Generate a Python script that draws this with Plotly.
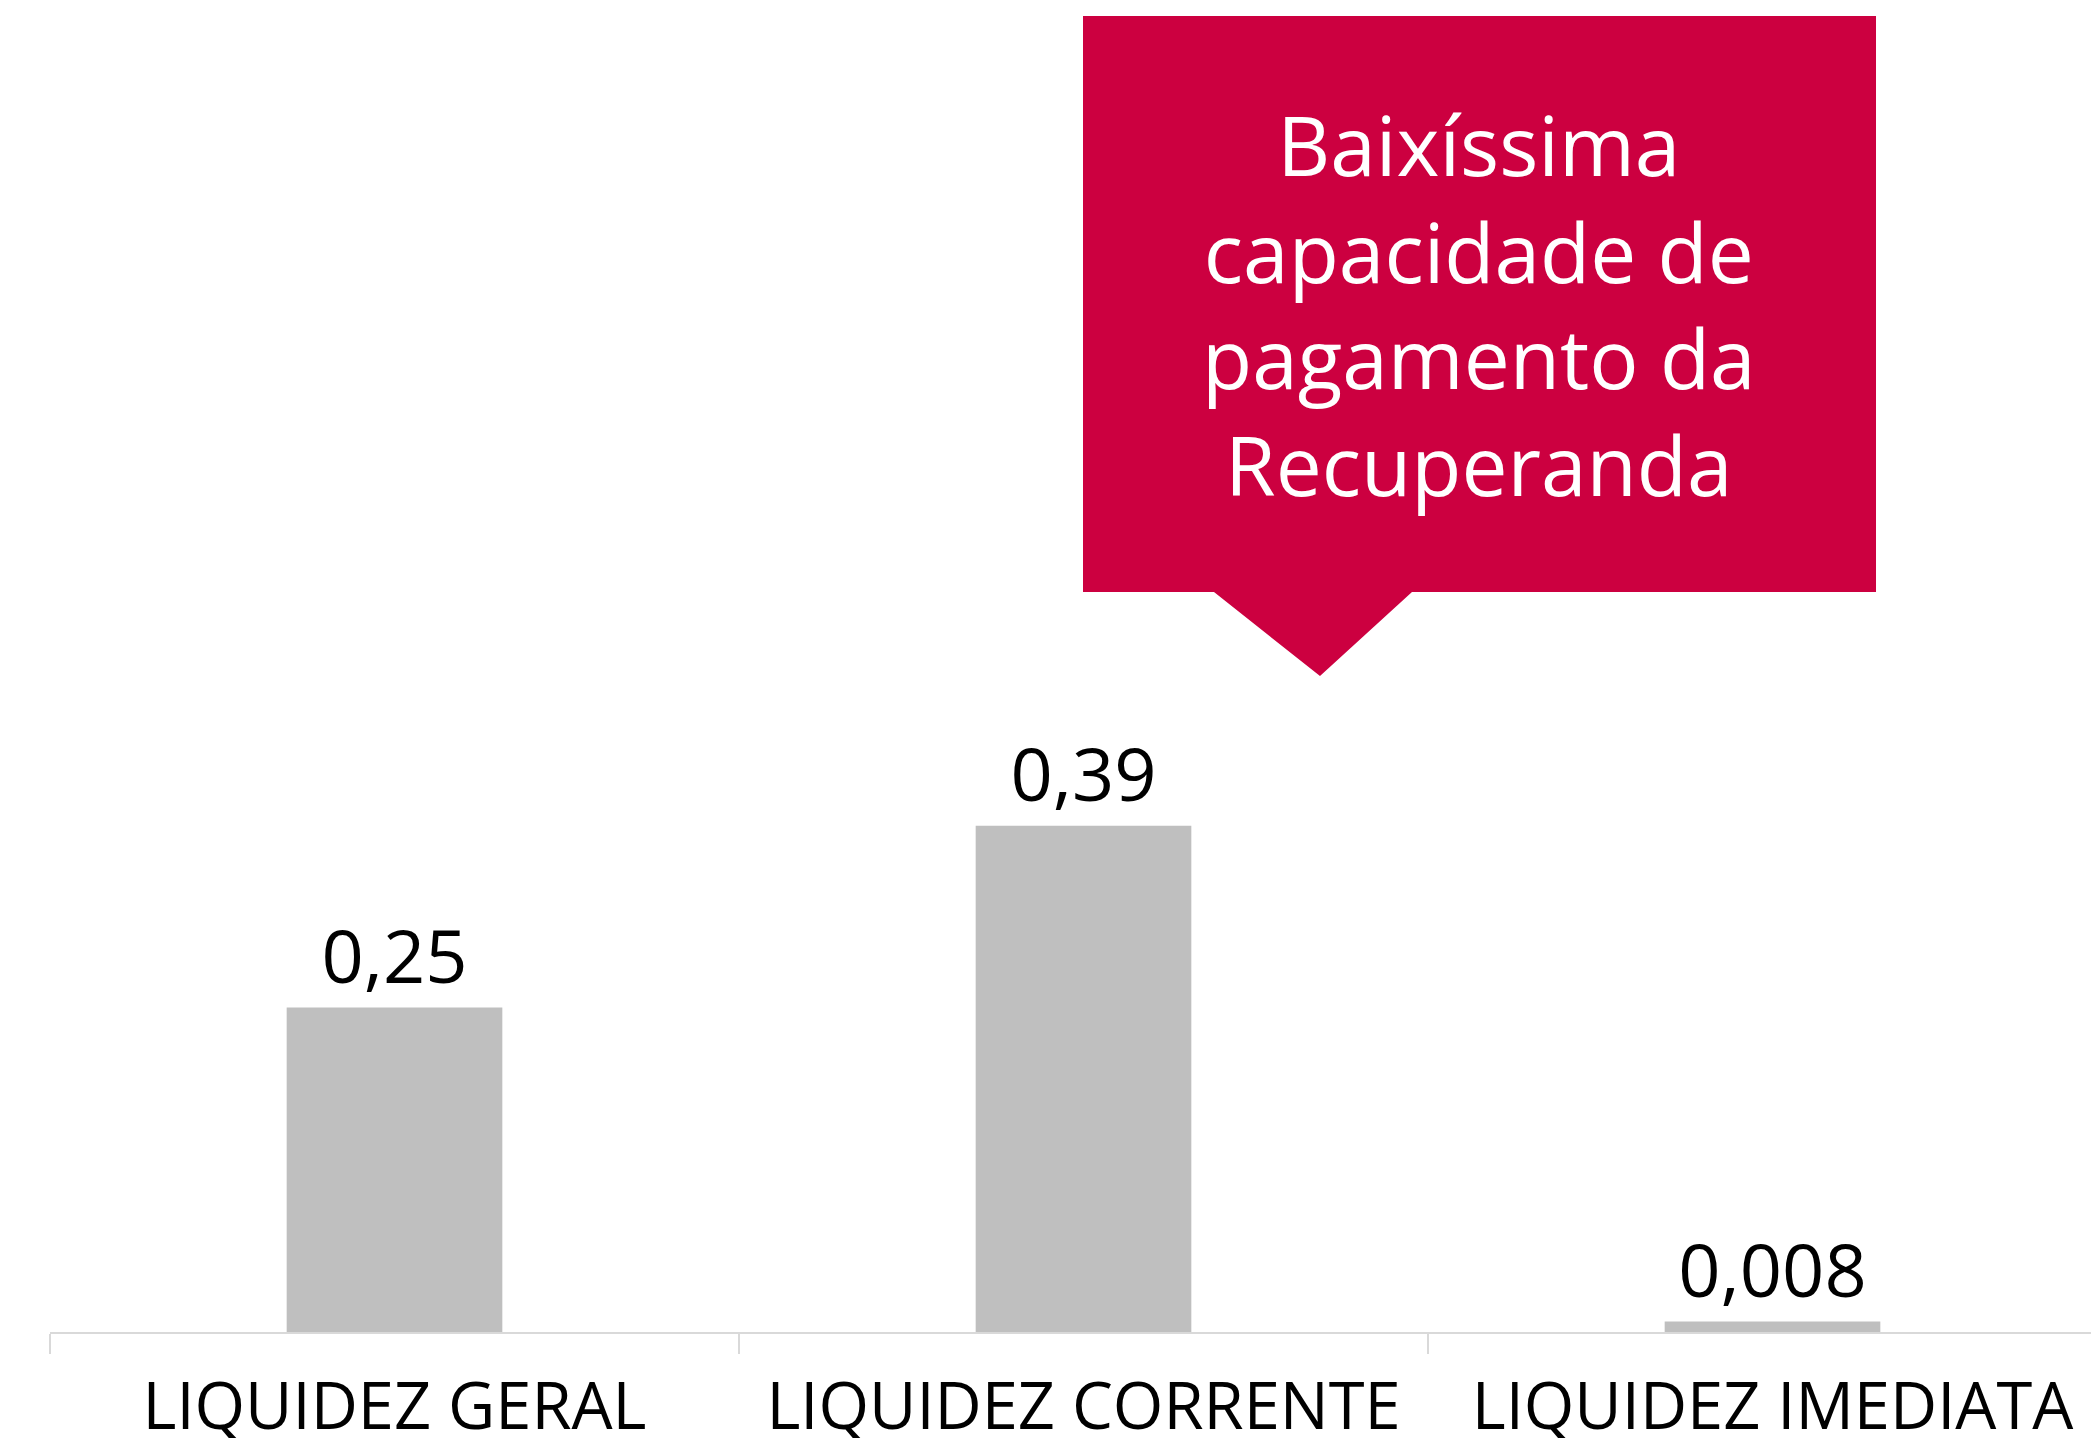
import plotly.graph_objects as go

categories = ["LIQUIDEZ GERAL", "LIQUIDEZ CORRENTE", "LIQUIDEZ IMEDIATA"]
values = [0.25, 0.39, 0.008]
value_labels = ["0,25", "0,39", "0,008"]
callout_text = "Baixíssima<br>capacidade de<br>pagamento da<br>Recuperanda"

OFF = 8  # page body margin
W, H = 2099 - OFF, 1438 - OFF
ML, MB, MT, MR = 50 - OFF, 106, 0, 0
PW = W - ML - MR
PH = H - MT - MB
CAT_W = 689  # pixels per category
FONT = "Open Sans"

def px(x):
    return (x - OFF - ML) / PW

def py(y):
    return (H - MB - (y - OFF)) / PH

fig = go.Figure()
fig.add_trace(go.Bar(
    x=categories, y=values, width=0.313,
    marker=dict(color="#bfbfbf", line=dict(width=0)),
    text=value_labels, textposition="outside", constraintext="none",
    textfont=dict(family=FONT, size=74, color="#000000"),
    cliponaxis=False,
))

# callout box with pointer (screen pixel positions)
pts = [(1083, 16), (1876, 16), (1876, 592), (1412, 592), (1320, 676),
       (1214, 592), (1083, 592)]
path = "M " + " L ".join(f"{px(a):.5f},{py(b):.5f}" for a, b in pts) + " Z"
fig.add_shape(type="path", xref="paper", yref="paper", path=path,
              fillcolor="#cc0040", line=dict(width=0), layer="above")
fig.add_annotation(xref="paper", yref="paper", x=px(1479), y=py(304),
                   text=callout_text, showarrow=False, xanchor="center",
                   yanchor="middle", align="center",
                   font=dict(family=FONT, size=82, color="#ffffff"))

fig.update_layout(
    width=W, height=H,
    margin=dict(l=ML, r=MR, t=MT, b=MB, pad=0, autoexpand=False),
    plot_bgcolor="#ffffff", paper_bgcolor="#ffffff",
    showlegend=False,
    font=dict(family=FONT, color="#000000"),
    xaxis=dict(range=[-0.5, -0.5 + PW / CAT_W], showline=True,
               linecolor="#d9d9d9", linewidth=2, ticks="outside",
               tickson="boundaries", ticklen=20, tickwidth=2,
               tickcolor="#d9d9d9", showgrid=False, automargin=False,
               ticklabelstandoff=17,
               tickfont=dict(family=FONT, size=65, color="#000000"),
               fixedrange=True),
    yaxis=dict(range=[0, PH / 1298], visible=False, showgrid=False,
               zeroline=False, fixedrange=True),
)
fig.write_html("out.html")
